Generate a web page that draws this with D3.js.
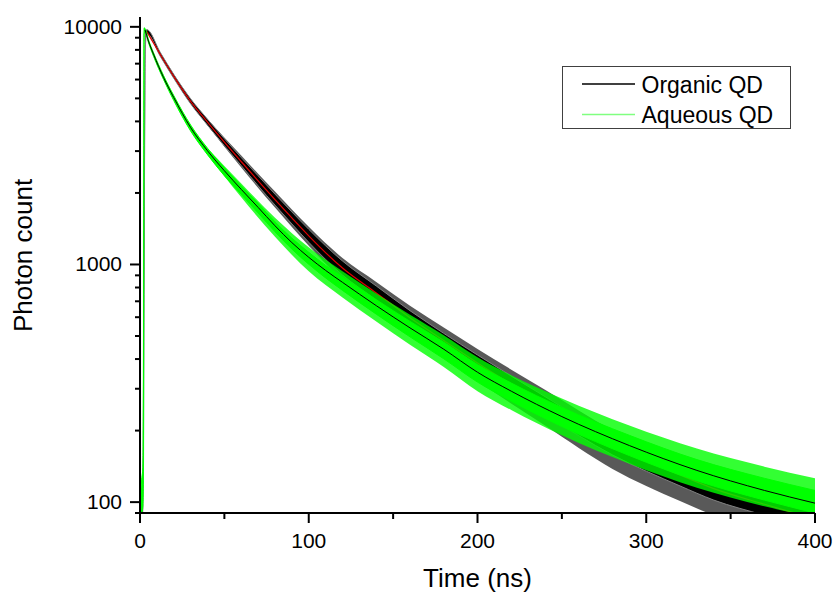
<!DOCTYPE html>
<html>
<head>
<meta charset="utf-8">
<script src="https://cdn.jsdelivr.net/npm/d3@7"></script>
<style>
  html, body { margin: 0; padding: 0; background: #fff; }
  svg { display: block; font-family: "Liberation Sans", Arial, sans-serif; }
</style>
</head>
<body>
<svg id="chart" width="835" height="594"></svg>
<script>
// ---------- data ----------
const seriesNames = ["Organic QD", "Aqueous QD"];

// Organic QD measured decay: time (ns) with lower / upper edge of the dense part of the noisy trace
const organicTime = [0, 1.5, 2.0, 2.6, 3.2, 4, 12, 20, 30, 40, 50, 60, 70, 80, 90, 100, 120, 140, 160, 180, 200, 240, 280, 320, 340, 370, 400];
const organicLow  = [88, 88, 150, 1800, 8300, 9367, 7514, 6072, 4744, 3857, 3161, 2607, 2144, 1778, 1481, 1240, 903, 709, 553, 443, 353, 233, 158, 117, 102, 88, 76];
const organicHigh = [92, 100, 260, 2600, 9300, 9736, 7809, 6311, 4979, 4087, 3382, 2817, 2362, 1977, 1664, 1406, 1034, 812, 639, 513, 416, 278, 188, 140, 123, 106, 92];
// Organic QD: reach of the sparse noise spikes
const organicSpikeTime = [40, 60, 80, 100, 120, 140, 160, 180, 200, 240, 280, 320, 340, 370, 400];
const organicSpikeLow  = [3857, 2557, 1735, 1198, 860, 669, 516, 406, 323, 210, 138, 101, 88, 75, 64];
const organicSpikeHigh = [4087, 2872, 2026, 1440, 1064, 844, 671, 543, 441, 297, 201, 150, 132, 113, 98];

// Organic QD fit curve
const organicFitTime = [4, 12, 20, 30, 40, 50, 60, 70, 80, 90, 100, 120, 140, 160, 180, 200, 240, 280, 320, 340, 370, 400];
const organicFit     = [9550, 7660, 6190, 4860, 3970, 3270, 2710, 2250, 1875, 1570, 1320, 966, 759, 597, 479, 385, 257, 174, 130, 114, 98, 85];

// Aqueous QD measured decay (dense part)
const aqueousTime = [0, 1.0, 1.7, 2.1, 2.4, 3, 5, 8, 14, 20, 30, 40, 50, 60, 70, 80, 90, 100, 110, 120, 140, 160, 180, 200, 220, 250, 290, 330, 370, 400];
const aqueousLow  = [88, 90, 95, 150, 9300, 9560, 8585, 7523, 5993, 4896, 3645, 2896, 2363, 1972, 1648, 1373, 1161, 1002, 878, 778, 618, 496, 401, 320, 266, 208, 157, 123, 102, 90];
const aqueousHigh = [95, 125, 140, 600, 9900, 9842, 8837, 7782, 6229, 5138, 3862, 3084, 2553, 2141, 1807, 1512, 1291, 1125, 991, 887, 711, 576, 471, 379, 317, 250, 191, 151, 126, 112];
// Aqueous QD: reach of the sparse noise spikes
const aqueousSpikeTime = [40, 60, 80, 100, 120, 140, 160, 180, 200, 220, 250, 290, 330, 370, 400];
const aqueousSpikeLow  = [2896, 1916, 1308, 936, 727, 575, 459, 370, 293, 244, 191, 145, 115, 96, 86];
const aqueousSpikeHigh = [3084, 2194, 1572, 1181, 936, 754, 614, 504, 407, 342, 273, 210, 168, 141, 126];

// Aqueous QD fit curve
const aqueousFitTime = [3, 5, 8, 14, 20, 30, 40, 50, 60, 70, 80, 90, 100, 110, 120, 140, 160, 180, 200, 220, 250, 290, 330, 370, 400];
const aqueousFit     = [9700, 8710, 7670, 6110, 5040, 3770, 3010, 2480, 2070, 1738, 1455, 1236, 1072, 944, 841, 671, 541, 440, 352, 293, 229, 173, 136, 112, 99];

// axes
const xDomain = [0, 400];
const yDomain = [90, 11000];
const xMajorTicks = [0, 100, 200, 300, 400];
const xMinorTicks = [50, 150, 250, 350];
const yMajorTicks = [100, 1000, 10000];
const yMinorTicks = [90, 200, 300, 400, 500, 600, 700, 800, 900, 2000, 3000, 4000, 5000, 6000, 7000, 8000, 9000];
const xTitle = "Time (ns)";
const yTitle = "Photon count";

// ---------- drawing ----------
const svg = d3.select("#chart");
const pLeft = 140, pRight = 815, pTop = 17, pBottom = 513;

const x = d3.scaleLinear().domain(xDomain).range([pLeft, pRight]);
const y = d3.scaleLog().domain(yDomain).range([pBottom, pTop]);

svg.append("defs").append("clipPath").attr("id", "plotclip")
  .append("rect").attr("x", pLeft).attr("y", pTop).attr("width", pRight - pLeft).attr("height", pBottom - pTop);

const plot = svg.append("g").attr("clip-path", "url(#plotclip)");

function band(times, lo, hi) {
  return d3.area()
    .x((d, i) => x(times[i]))
    .y0((d, i) => y(lo[i]))
    .y1((d, i) => y(hi[i]))
    .curve(d3.curveMonotoneX)(times);
}
function line(times, vals) {
  return d3.line()
    .x((d, i) => x(times[i]))
    .y((d, i) => y(vals[i]))
    .curve(d3.curveMonotoneX)(times);
}

// organic data: sparse spikes, then dense trace (black with grey fringe)
plot.append("path")
  .attr("d", band(organicSpikeTime, organicSpikeLow, organicSpikeHigh))
  .attr("fill", "#000").attr("fill-opacity", 0.65).attr("stroke", "none");
plot.append("path")
  .attr("d", band(organicTime, organicLow, organicHigh))
  .attr("fill", "#000").attr("stroke", "#808080").attr("stroke-width", 1);
// organic fit (red)
plot.append("path")
  .attr("d", line(organicFitTime, organicFit))
  .attr("fill", "none").attr("stroke", "#e00000").attr("stroke-width", 1.2);
// aqueous data (green)
plot.append("path")
  .attr("d", band(aqueousSpikeTime, aqueousSpikeLow, aqueousSpikeHigh))
  .attr("fill", "#00ff00").attr("fill-opacity", 0.8).attr("stroke", "none");
plot.append("path")
  .attr("d", band(aqueousTime, aqueousLow, aqueousHigh))
  .attr("fill", "#00ff00").attr("stroke", "#00ff00").attr("stroke-width", 1);
// aqueous fit (black)
plot.append("path")
  .attr("d", line(aqueousFitTime, aqueousFit))
  .attr("fill", "none").attr("stroke", "#000").attr("stroke-width", 1);

// axes
function styleAxis(g) {
  g.select(".domain").attr("stroke", "#000").attr("stroke-width", 2);
  g.selectAll(".tick line").attr("stroke", "#000").attr("stroke-width", 2);
  g.selectAll("text").attr("font-size", 21).attr("fill", "#000")
    .attr("font-family", "'Liberation Sans', Arial, sans-serif");
}

const xAxis = svg.append("g").attr("transform", `translate(0,${pBottom})`)
  .call(d3.axisBottom(x).tickValues(xMajorTicks).tickFormat(d3.format("d"))
    .tickSize(10).tickSizeOuter(0).tickPadding(10).offset(0));
styleAxis(xAxis);
const xMinor = svg.append("g").attr("transform", `translate(0,${pBottom})`)
  .call(d3.axisBottom(x).tickValues(xMinorTicks).tickFormat("")
    .tickSize(6).tickSizeOuter(0).offset(0));
styleAxis(xMinor);

const yAxis = svg.append("g").attr("transform", `translate(${pLeft},0)`)
  .call(d3.axisLeft(y).tickValues(yMajorTicks).tickFormat(d3.format("d"))
    .tickSize(10).tickSizeOuter(0).tickPadding(8).offset(0));
styleAxis(yAxis);
const yMinor = svg.append("g").attr("transform", `translate(${pLeft},0)`)
  .call(d3.axisLeft(y).tickValues(yMinorTicks).tickFormat("")
    .tickSize(5).tickSizeOuter(0).offset(0));
styleAxis(yMinor);
yMinor.select(".domain").remove();
xMinor.select(".domain").remove();

// axis titles
svg.append("text")
  .attr("x", x(200)).attr("y", 586.5)
  .attr("text-anchor", "middle").attr("font-size", 26).attr("fill", "#000")
  .text(xTitle);
svg.append("text")
  .attr("transform", "translate(32,255.5) rotate(-90)")
  .attr("text-anchor", "middle").attr("font-size", 26).attr("fill", "#000")
  .text(yTitle);

// legend
const legend = svg.append("g");
legend.append("rect")
  .attr("x", 562.5).attr("y", 66.5).attr("width", 228).attr("height", 62)
  .attr("fill", "#fff").attr("stroke", "#404040").attr("stroke-width", 1);
const legendColors = ["#000", "#80ff80"];
const legendRowY = [84, 114.5];
seriesNames.forEach((name, i) => {
  legend.append("line")
    .attr("x1", 582).attr("x2", 635).attr("y1", legendRowY[i]).attr("y2", legendRowY[i])
    .attr("stroke", legendColors[i]).attr("stroke-width", 1.5);
  legend.append("text")
    .attr("x", 641.5).attr("y", legendRowY[i] + 8.5)
    .attr("font-size", 23).attr("fill", "#000")
    .text(name);
});
</script>
</body>
</html>
